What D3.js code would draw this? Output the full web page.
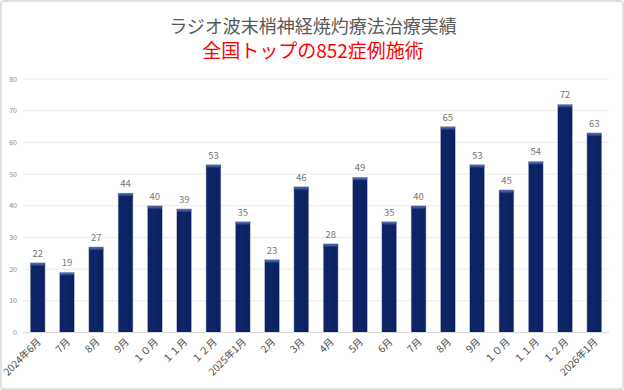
<!DOCTYPE html>
<html><head><meta charset="utf-8">
<script src="https://cdn.jsdelivr.net/npm/d3@7"></script>
<style>html,body{margin:0;padding:0;background:#fff;}svg{display:block;}</style>
</head><body>
<script>
const categories = ["2024年6月","7月","8月","9月","１０月","１１月","１２月","2025年1月","2月","3月","4月","5月","6月","7月","8月","9月","１０月","１１月","１２月","2026年1月"];
const values = [22,19,27,44,40,39,53,35,23,46,28,49,35,40,65,53,45,54,72,63];
const yTicks = [0,10,20,30,40,50,60,70,80];
const title = "ラジオ波末梢神経焼灼療法治療実績";
const subtitle = "全国トップの852症例施術";

const W = 624, H = 390;
const font = "'Noto Sans CJK JP','Noto Sans',sans-serif";
const svg = d3.select("body").append("svg").attr("width", W).attr("height", H);

const defs = svg.append("defs");
const g1 = defs.append("linearGradient").attr("id","cap").attr("x1",0).attr("y1",0).attr("x2",0).attr("y2",1);
g1.append("stop").attr("offset","0%").attr("stop-color","#5a78bd");
g1.append("stop").attr("offset","100%").attr("stop-color","#10296e");
const g2 = defs.append("linearGradient").attr("id","body").attr("x1",0).attr("y1",0).attr("x2",1).attr("y2",0);
g2.append("stop").attr("offset","0%").attr("stop-color","#0c2262");
g2.append("stop").attr("offset","50%").attr("stop-color","#0e2568");
g2.append("stop").attr("offset","100%").attr("stop-color","#0a1f5c");

svg.append("rect").attr("x",1).attr("y",1).attr("width",W-2).attr("height",H-2)
  .attr("rx",3).attr("fill","#fff").attr("stroke","#e0e0e0").attr("stroke-width",2);

const x = d3.scaleBand().domain(d3.range(categories.length)).range([23,609]).paddingInner(0.49).paddingOuter(0.245);
const y = d3.scaleLinear().domain([0,80]).range([332.5,79]);

// grid
svg.append("g").selectAll("line").data(yTicks).join("line")
  .attr("x1",23).attr("x2",609).attr("y1",d=>y(d)).attr("y2",d=>y(d))
  .attr("stroke","#ebebeb").attr("stroke-width",1);

// y labels
svg.append("g").selectAll("text").data(yTicks).join("text")
  .attr("x",17).attr("y",d=>y(d)+2.5).attr("text-anchor","end")
  .attr("font-family",font).attr("font-size",7).attr("fill","#8a8a8a").text(d=>d);

// bars
const bars = svg.append("g");
bars.selectAll("rect.b").data(values).join("rect").attr("class","b")
  .attr("x",(d,i)=>x(i)).attr("y",d=>y(d)).attr("width",x.bandwidth()).attr("height",d=>y(0)-y(d))
  .attr("fill","url(#body)").attr("stroke","#c5cbd8").attr("stroke-width",0.6);
bars.selectAll("rect.c").data(values).join("rect").attr("class","c")
  .attr("x",(d,i)=>x(i)+0.5).attr("y",d=>y(d)+0.5).attr("width",x.bandwidth()-1).attr("height",3)
  .attr("fill","url(#cap)");

// value labels
svg.append("g").selectAll("text").data(values).join("text")
  .attr("x",(d,i)=>x(i)+x.bandwidth()/2).attr("y",d=>y(d)-6)
  .attr("text-anchor","middle").attr("font-family",font).attr("font-size",9.5).attr("fill","#777").text(d=>d);

// axis baseline
svg.append("line").attr("x1",23).attr("x2",609).attr("y1",y(0)).attr("y2",y(0)).attr("stroke","#d8d8d8");

// x labels
svg.append("g").selectAll("text").data(categories).join("text")
  .attr("transform",(d,i)=>`translate(${x(i)+x.bandwidth()/2+4},${y(0)+10}) rotate(-45)`)
  .attr("text-anchor","end").attr("font-family",font).attr("font-size",10).attr("fill","#4a4a4a").text(d=>d);

// titles
svg.append("text").attr("x",313).attr("y",33).attr("text-anchor","middle")
  .attr("font-family",font).attr("font-size",18).attr("fill","#595959").text(title);
svg.append("text").attr("x",313).attr("y",58).attr("text-anchor","middle")
  .attr("font-family",font).attr("font-size",19).attr("fill","#ff0000").text(subtitle);
</script>
</body></html>
